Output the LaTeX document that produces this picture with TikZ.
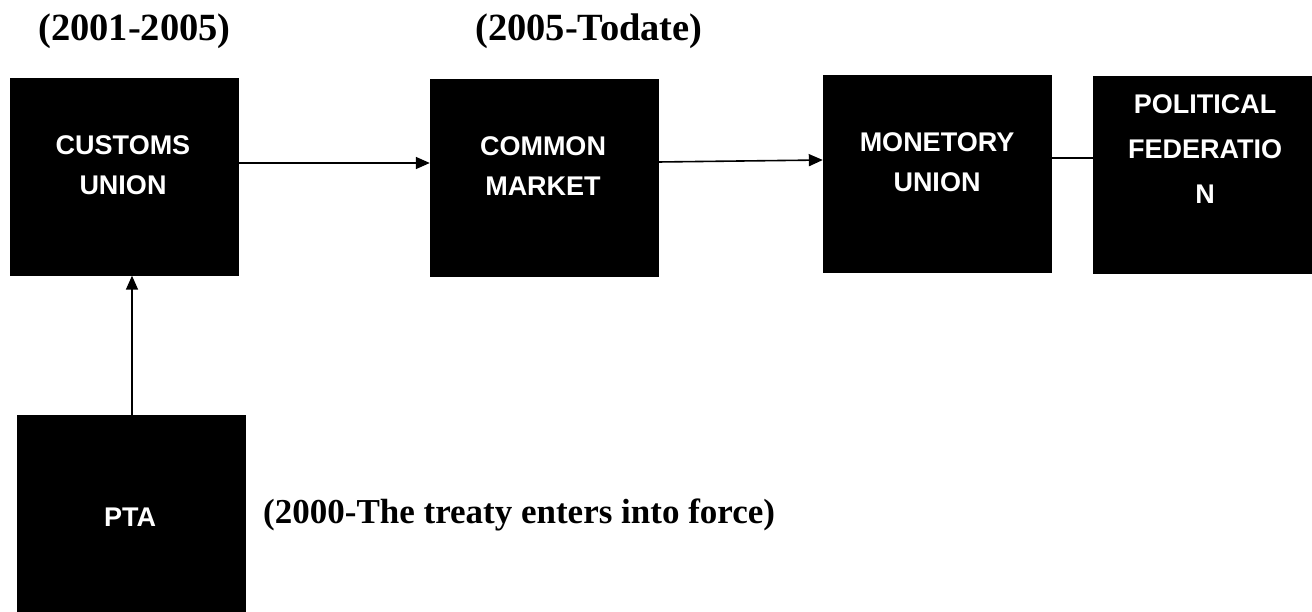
\documentclass[tikz,border=0pt]{standalone}
\usepackage{fontspec}
\setmainfont{Liberation Serif}
\newfontfamily\boxfont{Liberation Sans}
\usetikzlibrary{arrows.meta}
\tikzset{
  blackbox/.style={fill=black, draw=black, inner sep=0pt, minimum width=228pt, minimum height=197pt},
  boxtext/.style={text=white, font=\boxfont\bfseries\fontsize{27}{40}\selectfont, align=center, inner sep=0pt},
  period/.style={font=\bfseries\fontsize{38.5}{44}\selectfont, anchor=west, inner sep=0pt},
  conn/.style={line width=1.6pt, -{Triangle[length=14pt,width=12pt]}},
  plain/.style={line width=1.6pt}
}
\begin{document}
\begin{tikzpicture}[x=1pt,y=-1pt]
\useasboundingbox (0,0) rectangle (1312,612);
% boxes
\node[blackbox] (cu) at (124,177) {};
\node[blackbox] (cm) at (544,178) {};
\node[blackbox] (mu) at (937,174) {};
\node[blackbox, minimum width=219pt] (pf) at (1203,175) {};
\node[blackbox] (pta) at (131,514) {};
% box texts
\node[boxtext] (cut) at (123,165) {CUSTOMS\\UNION};
\node[boxtext] (cmt) at (543,166) {COMMON\\MARKET};
\node[boxtext] (mut) at (937,162) {MONETORY\\UNION};
\node[boxtext, font=\boxfont\bfseries\fontsize{27}{45}\selectfont] (pft) at (1205,149) {POLITICAL\\FEDERATIO\\N};
\node[boxtext] (ptat) at (130,517) {PTA};
% period labels
\node[period] (p1) at (38,31) {(2001-2005)};
\node[period] (p2) at (475,31) {(2005-Todate)};
\node[period, font=\bfseries\fontsize{35}{40}\selectfont] (p0) at (263,515) {(2000-The treaty enters into force)};
% connectors
\draw[conn] (cu.east |- 0,163) -- (cm.west |- 0,163);
\draw[conn] (cm.east |- 0,162) -- (mu.west |- 0,160);
\draw[plain] (mu.east |- 0,158) -- (pf.west |- 0,158);
\draw[conn] (pta.north -| 132,0) -- (cu.south -| 132,0);
\end{tikzpicture}
\end{document}
